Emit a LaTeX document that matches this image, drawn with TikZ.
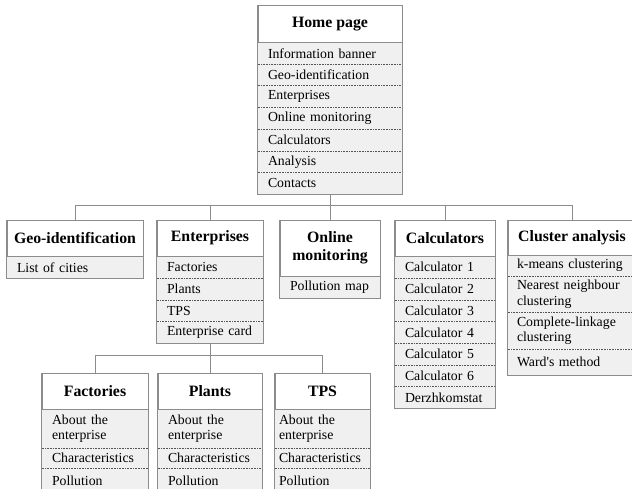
\documentclass[tikz,border=0pt]{standalone}
\usepackage{fontspec}
\setmainfont{Liberation Serif}
\usepackage{xcolor}
\usepackage{tikz}
\usetikzlibrary{positioning}
\definecolor{boxline}{HTML}{8C8C8C}
\definecolor{itemfill}{HTML}{F0F0F0}
\definecolor{sepline}{HTML}{555555}
\tikzstyle{boxhead} = [rectangle, draw=boxline, fill=white, anchor=north, inner sep=0pt, align=center, font=\fontsize{15.8}{18}\selectfont\bfseries]
\tikzstyle{boxitem} = [rectangle, fill=itemfill, align=left, inner xsep=10pt, inner ysep=3pt, minimum height=21.3pt, font=\fontsize{13.8}{15.5}\selectfont]
\tikzstyle{boxframe} = [draw=boxline, line width=0.8pt]
\tikzstyle{divider} = [densely dotted, sepline, line width=0.6pt]
\tikzstyle{connector} = [draw=boxline, line width=0.8pt]

\begin{document}
\begin{tikzpicture}[x=1pt, y=-1pt]
    \useasboundingbox (0,0) rectangle (632,489);
    \clip (0,0) rectangle (632,489);

    % Home page
    \node[boxhead, minimum width=144pt, minimum height=37pt] (home) at (330,5) {Home page};
    \node[boxitem, text width=124pt, below=0pt of home] (home1) {Information banner};
    \node[boxitem, text width=124pt, below=0pt of home1] (home2) {Geo-identification};
    \node[boxitem, text width=124pt, below=0pt of home2] (home3) {Enterprises};
    \node[boxitem, text width=124pt, below=0pt of home3] (home4) {Online monitoring};
    \node[boxitem, text width=124pt, below=0pt of home4] (home5) {Calculators};
    \node[boxitem, text width=124pt, below=0pt of home5] (home6) {Analysis};
    \node[boxitem, text width=124pt, below=0pt of home6] (home7) {Contacts};
    \foreach \i in {1,...,6} \draw[divider] (home\i.south west) -- (home\i.south east);
    \draw[boxframe] (home.north west) rectangle (home7.south east);

    % Geo-identification
    \node[boxhead, minimum width=136pt, minimum height=36pt] (geo) at (75,220) {Geo-identification};
    \node[boxitem, text width=116pt, below=0pt of geo] (geo1) {List of cities};
    \draw[boxframe] (geo.north west) rectangle (geo1.south east);

    % Enterprises
    \node[boxhead, minimum width=106pt, minimum height=36pt] (ent) at (210,220) {Enterprises};
    \node[boxitem, text width=86pt, below=0pt of ent] (ent1) {Factories};
    \node[boxitem, text width=86pt, below=0pt of ent1] (ent2) {Plants};
    \node[boxitem, text width=86pt, below=0pt of ent2] (ent3) {TPS};
    \node[boxitem, text width=86pt, below=0pt of ent3] (ent4) {Enterprise card};
    \foreach \i in {1,...,3} \draw[divider] (ent\i.south west) -- (ent\i.south east);
    \draw[boxframe] (ent.north west) rectangle (ent4.south east);

    % Online monitoring
    \node[boxhead, minimum width=100pt, minimum height=56pt] (online) at (330,220) {Online\\monitoring};
    \node[boxitem, text width=80pt, below=0pt of online] (online1) {Pollution map};
    \draw[boxframe] (online.north west) rectangle (online1.south east);

    % Calculators
    \node[boxhead, minimum width=100pt, minimum height=36pt] (calc) at (445,220) {Calculators};
    \node[boxitem, text width=80pt, below=0pt of calc] (calc1) {Calculator 1};
    \node[boxitem, text width=80pt, below=0pt of calc1] (calc2) {Calculator 2};
    \node[boxitem, text width=80pt, below=0pt of calc2] (calc3) {Calculator 3};
    \node[boxitem, text width=80pt, below=0pt of calc3] (calc4) {Calculator 4};
    \node[boxitem, text width=80pt, below=0pt of calc4] (calc5) {Calculator 5};
    \node[boxitem, text width=80pt, below=0pt of calc5] (calc6) {Calculator 6};
    \node[boxitem, text width=80pt, below=0pt of calc6] (calc7) {Derzhkomstat};
    \foreach \i in {1,...,6} \draw[divider] (calc\i.south west) -- (calc\i.south east);
    \draw[boxframe] (calc.north west) rectangle (calc7.south east);

    % Cluster analysis
    \node[boxhead, minimum width=128pt, minimum height=35pt] (clust) at (572,220) {Cluster analysis};
    \node[boxitem, text width=110pt, inner xsep=9pt, minimum height=20pt, below=0pt of clust] (clust1) {k-means clustering};
    \node[boxitem, text width=110pt, inner xsep=9pt, minimum height=36pt, below=0pt of clust1] (clust2) {Nearest neighbour\\clustering};
    \node[boxitem, text width=110pt, inner xsep=9pt, minimum height=37pt, below=0pt of clust2] (clust3) {Complete-linkage\\clustering};
    \node[boxitem, text width=110pt, inner xsep=9pt, minimum height=25pt, below=0pt of clust3] (clust4) {Ward\textquotesingle s method};
    \foreach \i in {1,...,3} \draw[divider] (clust\i.south west) -- (clust\i.south east);
    \draw[boxframe] (clust.north west) rectangle (clust4.south east);

    % Factories
    \node[boxhead, minimum width=106pt, minimum height=36pt] (fact) at (95,373) {Factories};
    \node[boxitem, text width=86pt, minimum height=38pt, below=0pt of fact] (fact1) {About the\\enterprise};
    \node[boxitem, text width=86pt, minimum height=20pt, below=0pt of fact1] (fact2) {Characteristics};
    \node[boxitem, text width=86pt, minimum height=25pt, below=0pt of fact2] (fact3) {Pollution};
    \foreach \i in {1,2} \draw[divider] (fact\i.south west) -- (fact\i.south east);
    \draw[boxframe] (fact.north west) rectangle (fact3.south east);

    % Plants
    \node[boxhead, minimum width=104pt, minimum height=36pt] (plant) at (210,373) {Plants};
    \node[boxitem, text width=84pt, minimum height=38pt, below=0pt of plant] (plant1) {About the\\enterprise};
    \node[boxitem, text width=84pt, minimum height=20pt, below=0pt of plant1] (plant2) {Characteristics};
    \node[boxitem, text width=84pt, minimum height=25pt, below=0pt of plant2] (plant3) {Pollution};
    \foreach \i in {1,2} \draw[divider] (plant\i.south west) -- (plant\i.south east);
    \draw[boxframe] (plant.north west) rectangle (plant3.south east);

    % TPS
    \node[boxhead, minimum width=95pt, minimum height=36pt] (tps) at (322.5,373) {TPS};
    \node[boxitem, text width=87pt, inner xsep=4pt, minimum height=38pt, below=0pt of tps] (tps1) {About the\\enterprise};
    \node[boxitem, text width=87pt, inner xsep=4pt, minimum height=20pt, below=0pt of tps1] (tps2) {Characteristics};
    \node[boxitem, text width=87pt, inner xsep=4pt, minimum height=25pt, below=0pt of tps2] (tps3) {Pollution};
    \foreach \i in {1,2} \draw[divider] (tps\i.south west) -- (tps\i.south east);
    \draw[boxframe] (tps.north west) rectangle (tps3.south east);

    % Connectors
    \coordinate (bus) at (330,205);
    \draw[connector] (home7.south) -- (bus);
    \draw[connector] (geo.north) |- (bus);
    \draw[connector] (clust.north) |- (bus);
    \draw[connector] (ent.north) -- (ent.north |- bus);
    \draw[connector] (online.north) -- (online.north |- bus);
    \draw[connector] (calc.north) -- (calc.north |- bus);

    \coordinate (subbus) at (210,355);
    \draw[connector] (ent4.south) -- (subbus);
    \draw[connector] (fact.north) |- (subbus);
    \draw[connector] (tps.north) |- (subbus);
    \draw[connector] (plant.north) -- (plant.north |- subbus);
\end{tikzpicture}
\end{document}
